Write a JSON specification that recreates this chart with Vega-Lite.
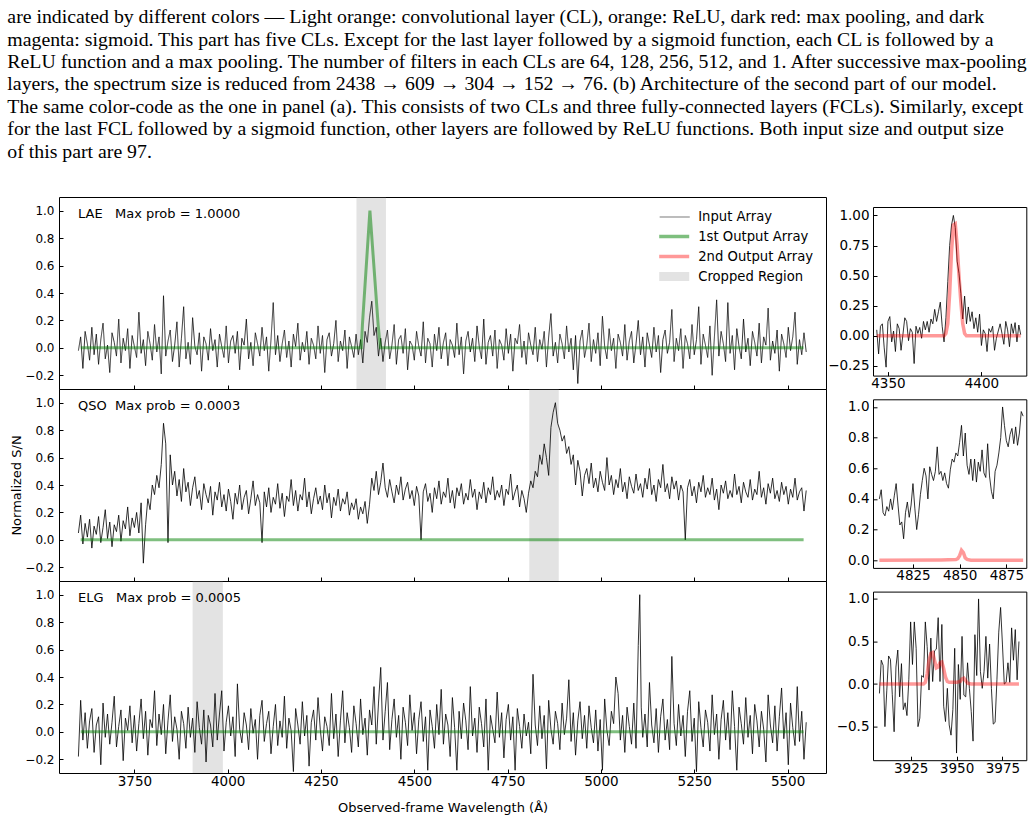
{
  "$schema": "https://vega.github.io/schema/vega-lite/v6.json",
  "background": "white",
  "padding": {"left": 7, "top": 7, "right": 5, "bottom": 5},
  "config": {
    "font": "DejaVu Sans",
    "view": {"stroke": "#000", "strokeWidth": 1},
    "axis": {"domain": false, "grid": false, "tickSize": -4, "tickColor": "#000", "tickWidth": 1, "tickCount": 20, "labelColor": "#000", "labelFont": "DejaVu Sans", "labelFlush": false, "labelOverlap": false, "titleFont": "DejaVu Sans", "titleFontSize": 13, "titleFontWeight": "normal", "titleColor": "#000"},
    "axisX": {"labelPadding": 5.7, "labelFontSize": 13.5},
    "axisY": {"labelPadding": 9, "labelFontSize": 12},
    "legend": {"title": null, "padding": 0, "labelFont": "DejaVu Sans", "labelFontSize": 13.2, "labelColor": "#000", "labelLimit": 300, "symbolSize": 225, "rowPadding": 5},
    "title": {"font": "DejaVu Sans", "fontWeight": "normal", "color": "#000"}
  },
  "title": {
    "text": [
      "are indicated by different colors — Light orange: convolutional layer (CL), orange: ReLU, dark red: max pooling, and dark",
      "magenta: sigmoid. This part has five CLs. Except for the last layer followed by a sigmoid function, each CL is followed by a",
      "ReLU function and a max pooling. The number of filters in each CLs are 64, 128, 256, 512, and 1. After successive max-pooling",
      "layers, the spectrum size is reduced from 2438 → 609 → 304 → 152 → 76. (b) Architecture of the second part of our model.",
      "The same color-code as the one in panel (a). This consists of two CLs and three fully-connected layers (FCLs). Similarly, except",
      "for the last FCL followed by a sigmoid function, other layers are followed by ReLU functions. Both input size and output size",
      "of this part are 97."
    ],
    "anchor": "start", "frame": "bounds", "font": "Liberation Serif", "fontSize": 19.8, "fontWeight": "normal", "lineHeight": 22.4, "offset": 35, "dx": -3, "color": "#000"
  },
  "datasets": {
    "lae": [
      {"wl":3600,"sn":-0.02},{"wl":3606,"sn":0.08},{"wl":3612,"sn":-0.15},{"wl":3618,"sn":0.12},{"wl":3624,"sn":0.03},{"wl":3630,"sn":-0.09},{"wl":3636,"sn":0.15},{"wl":3642,"sn":-0.05},{"wl":3648,"sn":0.1},{"wl":3654,"sn":-0.12},
      {"wl":3660,"sn":0.06},{"wl":3666,"sn":0.18},{"wl":3672,"sn":-0.08},{"wl":3678,"sn":0.02},{"wl":3684,"sn":-0.18},{"wl":3690,"sn":0.11},{"wl":3696,"sn":0.04},{"wl":3702,"sn":-0.06},{"wl":3708,"sn":0.21},{"wl":3714,"sn":-0.11},
      {"wl":3720,"sn":0.07},{"wl":3726,"sn":-0.02},{"wl":3732,"sn":0.14},{"wl":3738,"sn":-0.15},{"wl":3744,"sn":0.09},{"wl":3750,"sn":0.01},{"wl":3756,"sn":-0.07},{"wl":3762,"sn":0.26},{"wl":3768,"sn":-0.04},{"wl":3774,"sn":0.06},
      {"wl":3780,"sn":-0.13},{"wl":3786,"sn":0.12},{"wl":3792,"sn":0.03},{"wl":3798,"sn":-0.09},{"wl":3804,"sn":0.17},{"wl":3810,"sn":-0.03},{"wl":3816,"sn":0.08},{"wl":3822,"sn":-0.19},{"wl":3828,"sn":0.38},{"wl":3834,"sn":-0.06},
      {"wl":3840,"sn":0.05},{"wl":3846,"sn":0.13},{"wl":3852,"sn":-0.1},{"wl":3858,"sn":0.02},{"wl":3864,"sn":0.19},{"wl":3870,"sn":-0.14},{"wl":3876,"sn":0.07},{"wl":3882,"sn":0.3},{"wl":3888,"sn":-0.08},{"wl":3894,"sn":0.04},
      {"wl":3900,"sn":-0.12},{"wl":3906,"sn":0.22},{"wl":3912,"sn":0.01},{"wl":3918,"sn":-0.05},{"wl":3924,"sn":0.11},{"wl":3930,"sn":-0.17},{"wl":3936,"sn":0.08},{"wl":3942,"sn":0.03},{"wl":3948,"sn":-0.09},{"wl":3954,"sn":0.14},
      {"wl":3960,"sn":-0.02},{"wl":3966,"sn":0.06},{"wl":3972,"sn":-0.14},{"wl":3978,"sn":0.1},{"wl":3984,"sn":0.01},{"wl":3990,"sn":-0.07},{"wl":3996,"sn":0.16},{"wl":4002,"sn":-0.11},{"wl":4008,"sn":0.05},{"wl":4014,"sn":0.09},
      {"wl":4020,"sn":-0.04},{"wl":4026,"sn":0.12},{"wl":4032,"sn":-0.16},{"wl":4038,"sn":0.07},{"wl":4044,"sn":0.02},{"wl":4050,"sn":0.21},{"wl":4056,"sn":-0.08},{"wl":4062,"sn":0.04},{"wl":4068,"sn":-0.13},{"wl":4074,"sn":0.11},
      {"wl":4080,"sn":0.03},{"wl":4086,"sn":-0.06},{"wl":4092,"sn":0.15},{"wl":4098,"sn":-0.02},{"wl":4104,"sn":0.08},{"wl":4110,"sn":-0.17},{"wl":4116,"sn":0.06},{"wl":4122,"sn":0.33},{"wl":4128,"sn":-0.05},{"wl":4134,"sn":0.09},
      {"wl":4140,"sn":-0.1},{"wl":4146,"sn":0.03},{"wl":4152,"sn":0.13},{"wl":4158,"sn":-0.07},{"wl":4164,"sn":0.05},{"wl":4170,"sn":-0.14},{"wl":4176,"sn":0.1},{"wl":4182,"sn":0.01},{"wl":4188,"sn":0.18},{"wl":4194,"sn":-0.09},
      {"wl":4200,"sn":0.04},{"wl":4206,"sn":-0.03},{"wl":4212,"sn":0.12},{"wl":4218,"sn":-0.12},{"wl":4224,"sn":0.07},{"wl":4230,"sn":0.02},{"wl":4236,"sn":-0.08},{"wl":4242,"sn":0.16},{"wl":4248,"sn":-0.04},{"wl":4254,"sn":0.09},
      {"wl":4260,"sn":-0.18},{"wl":4266,"sn":0.06},{"wl":4272,"sn":0.11},{"wl":4278,"sn":-0.06},{"wl":4284,"sn":0.03},{"wl":4290,"sn":0.2},{"wl":4296,"sn":-0.1},{"wl":4302,"sn":0.05},{"wl":4308,"sn":-0.02},{"wl":4314,"sn":0.13},
      {"wl":4320,"sn":-0.15},{"wl":4326,"sn":0.08},{"wl":4332,"sn":0.01},{"wl":4338,"sn":-0.07},{"wl":4344,"sn":0.1},{"wl":4350,"sn":-0.05},{"wl":4356,"sn":0.06},{"wl":4362,"sn":-0.11},{"wl":4368,"sn":0.12},{"wl":4374,"sn":0.04},
      {"wl":4380,"sn":0.22},{"wl":4386,"sn":0.34},{"wl":4392,"sn":0.09},{"wl":4398,"sn":0.15},{"wl":4404,"sn":-0.06},{"wl":4410,"sn":0.07},{"wl":4416,"sn":-0.1},{"wl":4422,"sn":0.04},{"wl":4428,"sn":0.13},{"wl":4434,"sn":-0.08},
      {"wl":4440,"sn":0.02},{"wl":4446,"sn":0.17},{"wl":4452,"sn":-0.12},{"wl":4458,"sn":0.06},{"wl":4464,"sn":0.09},{"wl":4470,"sn":-0.04},{"wl":4476,"sn":0.14},{"wl":4482,"sn":-0.16},{"wl":4488,"sn":0.05},{"wl":4494,"sn":0.02},
      {"wl":4500,"sn":-0.09},{"wl":4506,"sn":0.12},{"wl":4512,"sn":0.01},{"wl":4518,"sn":-0.06},{"wl":4524,"sn":0.19},{"wl":4530,"sn":-0.11},{"wl":4536,"sn":0.07},{"wl":4542,"sn":0.03},{"wl":4548,"sn":-0.14},{"wl":4554,"sn":0.1},
      {"wl":4560,"sn":-0.02},{"wl":4566,"sn":0.15},{"wl":4572,"sn":-0.08},{"wl":4578,"sn":0.04},{"wl":4584,"sn":0.11},{"wl":4590,"sn":-0.13},{"wl":4596,"sn":0.06},{"wl":4602,"sn":0.02},{"wl":4608,"sn":-0.07},{"wl":4614,"sn":0.18},
      {"wl":4620,"sn":-0.05},{"wl":4626,"sn":0.08},{"wl":4632,"sn":-0.19},{"wl":4638,"sn":0.05},{"wl":4644,"sn":0.12},{"wl":4650,"sn":-0.03},{"wl":4656,"sn":0.07},{"wl":4662,"sn":-0.1},{"wl":4668,"sn":0.16},{"wl":4674,"sn":0.01},
      {"wl":4680,"sn":-0.08},{"wl":4686,"sn":0.21},{"wl":4692,"sn":-0.12},{"wl":4698,"sn":0.04},{"wl":4704,"sn":0.09},{"wl":4710,"sn":-0.06},{"wl":4716,"sn":0.13},{"wl":4722,"sn":-0.15},{"wl":4728,"sn":0.06},{"wl":4734,"sn":0.02},
      {"wl":4740,"sn":-0.09},{"wl":4746,"sn":0.14},{"wl":4752,"sn":-0.04},{"wl":4758,"sn":0.1},{"wl":4764,"sn":-0.17},{"wl":4770,"sn":0.07},{"wl":4776,"sn":0.03},{"wl":4782,"sn":0.17},{"wl":4788,"sn":-0.07},{"wl":4794,"sn":0.05},
      {"wl":4800,"sn":-0.12},{"wl":4806,"sn":0.11},{"wl":4812,"sn":0.02},{"wl":4818,"sn":-0.05},{"wl":4824,"sn":0.15},{"wl":4830,"sn":-0.1},{"wl":4836,"sn":0.06},{"wl":4842,"sn":-0.01},{"wl":4848,"sn":0.12},{"wl":4854,"sn":-0.14},
      {"wl":4860,"sn":0.08},{"wl":4866,"sn":0.25},{"wl":4872,"sn":-0.06},{"wl":4878,"sn":0.04},{"wl":4884,"sn":-0.11},{"wl":4890,"sn":0.1},{"wl":4896,"sn":0.03},{"wl":4902,"sn":-0.08},{"wl":4908,"sn":0.16},{"wl":4914,"sn":-0.03},
      {"wl":4920,"sn":0.07},{"wl":4926,"sn":-0.16},{"wl":4932,"sn":0.09},{"wl":4938,"sn":-0.26},{"wl":4944,"sn":0.05},{"wl":4950,"sn":0.13},{"wl":4956,"sn":-0.07},{"wl":4962,"sn":0.02},{"wl":4968,"sn":0.18},{"wl":4974,"sn":-0.1},
      {"wl":4980,"sn":0.06},{"wl":4986,"sn":-0.04},{"wl":4992,"sn":0.11},{"wl":4998,"sn":-0.13},{"wl":5004,"sn":0.23},{"wl":5010,"sn":0.01},{"wl":5016,"sn":-0.08},{"wl":5022,"sn":0.14},{"wl":5028,"sn":-0.02},{"wl":5034,"sn":0.07},
      {"wl":5040,"sn":-0.15},{"wl":5046,"sn":0.1},{"wl":5052,"sn":0.04},{"wl":5058,"sn":-0.06},{"wl":5064,"sn":0.17},{"wl":5070,"sn":-0.09},{"wl":5076,"sn":0.05},{"wl":5082,"sn":0.12},{"wl":5088,"sn":-0.11},{"wl":5094,"sn":0.03},
      {"wl":5100,"sn":0.2},{"wl":5106,"sn":-0.05},{"wl":5112,"sn":0.08},{"wl":5118,"sn":-0.14},{"wl":5124,"sn":0.11},{"wl":5130,"sn":0.02},{"wl":5136,"sn":-0.07},{"wl":5142,"sn":0.15},{"wl":5148,"sn":-0.03},{"wl":5154,"sn":0.09},
      {"wl":5160,"sn":-0.18},{"wl":5166,"sn":0.06},{"wl":5172,"sn":0.13},{"wl":5178,"sn":-0.04},{"wl":5184,"sn":0.04},{"wl":5190,"sn":0.28},{"wl":5196,"sn":-0.1},{"wl":5202,"sn":0.07},{"wl":5208,"sn":-0.02},{"wl":5214,"sn":0.14},
      {"wl":5220,"sn":-0.15},{"wl":5226,"sn":0.09},{"wl":5232,"sn":0.03},{"wl":5238,"sn":-0.08},{"wl":5244,"sn":0.17},{"wl":5250,"sn":-0.05},{"wl":5256,"sn":0.06},{"wl":5262,"sn":0.3},{"wl":5268,"sn":-0.12},{"wl":5274,"sn":0.1},
      {"wl":5280,"sn":0.02},{"wl":5286,"sn":-0.07},{"wl":5292,"sn":0.16},{"wl":5298,"sn":-0.2},{"wl":5304,"sn":0.08},{"wl":5310,"sn":0.35},{"wl":5316,"sn":-0.06},{"wl":5322,"sn":0.12},{"wl":5328,"sn":0.03},{"wl":5334,"sn":-0.1},
      {"wl":5340,"sn":0.33},{"wl":5346,"sn":-0.04},{"wl":5352,"sn":0.09},{"wl":5358,"sn":-0.16},{"wl":5364,"sn":0.14},{"wl":5370,"sn":0.01},{"wl":5376,"sn":-0.08},{"wl":5382,"sn":0.21},{"wl":5388,"sn":-0.03},{"wl":5394,"sn":0.07},
      {"wl":5400,"sn":-0.13},{"wl":5406,"sn":0.12},{"wl":5412,"sn":0.04},{"wl":5418,"sn":-0.06},{"wl":5424,"sn":0.18},{"wl":5430,"sn":-0.11},{"wl":5436,"sn":0.08},{"wl":5442,"sn":0.02},{"wl":5448,"sn":0.29},{"wl":5454,"sn":-0.09},
      {"wl":5460,"sn":0.05},{"wl":5466,"sn":-0.04},{"wl":5472,"sn":0.13},{"wl":5478,"sn":-0.17},{"wl":5484,"sn":0.1},{"wl":5490,"sn":0.03},{"wl":5496,"sn":-0.07},{"wl":5502,"sn":0.15},{"wl":5508,"sn":-0.02},{"wl":5514,"sn":0.08},
      {"wl":5520,"sn":0.26},{"wl":5526,"sn":-0.12},{"wl":5532,"sn":0.06},{"wl":5538,"sn":-0.05},{"wl":5544,"sn":0.11},{"wl":5550,"sn":-0.03}
    ],
    "laeOut1": [
      {"wl":3606,"sn":0},{"wl":4358,"sn":0},{"wl":4361,"sn":0.17},{"wl":4381,"sn":1.0},{"wl":4403,"sn":0.17},{"wl":4409,"sn":0},{"wl":5543,"sn":0}
    ],
    "qso": [
      {"wl":3600,"sn":0.05},{"wl":3606,"sn":0.18},{"wl":3612,"sn":-0.03},{"wl":3618,"sn":0.12},{"wl":3624,"sn":0.02},{"wl":3630,"sn":0.15},{"wl":3636,"sn":-0.06},{"wl":3642,"sn":0.1},{"wl":3648,"sn":0.04},{"wl":3654,"sn":0.17},
      {"wl":3660,"sn":-0.02},{"wl":3666,"sn":0.09},{"wl":3672,"sn":0.22},{"wl":3678,"sn":0.01},{"wl":3684,"sn":0.13},{"wl":3690,"sn":-0.05},{"wl":3696,"sn":0.11},{"wl":3702,"sn":0.06},{"wl":3708,"sn":0.18},{"wl":3714,"sn":-0.01},
      {"wl":3720,"sn":0.14},{"wl":3726,"sn":0.08},{"wl":3732,"sn":0.24},{"wl":3738,"sn":0.03},{"wl":3744,"sn":0.16},{"wl":3750,"sn":0.09},{"wl":3756,"sn":0.2},{"wl":3762,"sn":0.05},{"wl":3768,"sn":0.27},{"wl":3774,"sn":-0.17},
      {"wl":3780,"sn":0.11},{"wl":3786,"sn":0.3},{"wl":3792,"sn":0.22},{"wl":3798,"sn":0.4},{"wl":3804,"sn":0.33},{"wl":3810,"sn":0.47},{"wl":3816,"sn":0.38},{"wl":3822,"sn":0.55},{"wl":3828,"sn":0.85},{"wl":3834,"sn":0.7},
      {"wl":3840,"sn":-0.02},{"wl":3846,"sn":0.62},{"wl":3852,"sn":0.4},{"wl":3858,"sn":0.5},{"wl":3864,"sn":0.32},{"wl":3870,"sn":0.44},{"wl":3876,"sn":0.28},{"wl":3882,"sn":0.52},{"wl":3888,"sn":0.35},{"wl":3894,"sn":0.42},
      {"wl":3900,"sn":0.25},{"wl":3906,"sn":0.38},{"wl":3912,"sn":0.46},{"wl":3918,"sn":0.3},{"wl":3924,"sn":0.36},{"wl":3930,"sn":0.22},{"wl":3936,"sn":0.41},{"wl":3942,"sn":0.33},{"wl":3948,"sn":0.27},{"wl":3954,"sn":0.39},
      {"wl":3960,"sn":0.18},{"wl":3966,"sn":0.35},{"wl":3972,"sn":0.29},{"wl":3978,"sn":0.42},{"wl":3984,"sn":0.24},{"wl":3990,"sn":0.33},{"wl":3996,"sn":0.21},{"wl":4002,"sn":0.37},{"wl":4008,"sn":0.28},{"wl":4014,"sn":0.15},
      {"wl":4020,"sn":0.34},{"wl":4026,"sn":0.26},{"wl":4032,"sn":0.4},{"wl":4038,"sn":0.22},{"wl":4044,"sn":0.31},{"wl":4050,"sn":0.36},{"wl":4056,"sn":0.19},{"wl":4062,"sn":0.3},{"wl":4068,"sn":0.43},{"wl":4074,"sn":0.25},
      {"wl":4080,"sn":0.33},{"wl":4086,"sn":0.27},{"wl":4092,"sn":-0.02},{"wl":4098,"sn":0.35},{"wl":4104,"sn":0.24},{"wl":4110,"sn":0.38},{"wl":4116,"sn":0.2},{"wl":4122,"sn":0.31},{"wl":4128,"sn":0.26},{"wl":4134,"sn":0.41},
      {"wl":4140,"sn":0.23},{"wl":4146,"sn":0.34},{"wl":4152,"sn":0.17},{"wl":4158,"sn":0.32},{"wl":4164,"sn":0.28},{"wl":4170,"sn":0.44},{"wl":4176,"sn":0.25},{"wl":4182,"sn":0.36},{"wl":4188,"sn":0.21},{"wl":4194,"sn":0.33},
      {"wl":4200,"sn":0.29},{"wl":4206,"sn":0.45},{"wl":4212,"sn":0.24},{"wl":4218,"sn":0.35},{"wl":4224,"sn":0.19},{"wl":4230,"sn":0.3},{"wl":4236,"sn":0.38},{"wl":4242,"sn":0.26},{"wl":4248,"sn":0.32},{"wl":4254,"sn":0.22},
      {"wl":4260,"sn":0.4},{"wl":4266,"sn":0.27},{"wl":4272,"sn":0.34},{"wl":4278,"sn":0.16},{"wl":4284,"sn":0.31},{"wl":4290,"sn":0.25},{"wl":4296,"sn":0.37},{"wl":4302,"sn":0.21},{"wl":4308,"sn":0.3},{"wl":4314,"sn":0.26},
      {"wl":4320,"sn":0.35},{"wl":4326,"sn":0.18},{"wl":4332,"sn":0.27},{"wl":4338,"sn":0.22},{"wl":4344,"sn":0.3},{"wl":4350,"sn":0.15},{"wl":4356,"sn":0.24},{"wl":4362,"sn":0.19},{"wl":4368,"sn":0.28},{"wl":4374,"sn":0.12},
      {"wl":4380,"sn":0.26},{"wl":4386,"sn":0.45},{"wl":4392,"sn":0.36},{"wl":4398,"sn":0.5},{"wl":4404,"sn":0.33},{"wl":4410,"sn":0.42},{"wl":4416,"sn":0.56},{"wl":4422,"sn":0.38},{"wl":4428,"sn":0.31},{"wl":4434,"sn":0.44},
      {"wl":4440,"sn":0.35},{"wl":4446,"sn":0.27},{"wl":4452,"sn":0.4},{"wl":4458,"sn":0.33},{"wl":4464,"sn":0.46},{"wl":4470,"sn":0.29},{"wl":4476,"sn":0.37},{"wl":4482,"sn":0.42},{"wl":4488,"sn":0.3},{"wl":4494,"sn":0.36},
      {"wl":4500,"sn":0.25},{"wl":4506,"sn":0.39},{"wl":4512,"sn":0.32},{"wl":4518,"sn":0.0},{"wl":4524,"sn":0.35},{"wl":4530,"sn":0.41},{"wl":4536,"sn":0.28},{"wl":4542,"sn":0.34},{"wl":4548,"sn":0.2},{"wl":4554,"sn":0.38},
      {"wl":4560,"sn":0.3},{"wl":4566,"sn":0.43},{"wl":4572,"sn":0.26},{"wl":4578,"sn":0.35},{"wl":4584,"sn":0.31},{"wl":4590,"sn":0.45},{"wl":4596,"sn":0.27},{"wl":4602,"sn":0.36},{"wl":4608,"sn":0.23},{"wl":4614,"sn":0.38},
      {"wl":4620,"sn":0.32},{"wl":4626,"sn":0.41},{"wl":4632,"sn":0.26},{"wl":4638,"sn":0.34},{"wl":4644,"sn":0.29},{"wl":4650,"sn":0.44},{"wl":4656,"sn":0.31},{"wl":4662,"sn":0.37},{"wl":4668,"sn":0.22},{"wl":4674,"sn":0.35},
      {"wl":4680,"sn":0.3},{"wl":4686,"sn":0.42},{"wl":4692,"sn":0.27},{"wl":4698,"sn":0.38},{"wl":4704,"sn":0.33},{"wl":4710,"sn":0.46},{"wl":4716,"sn":0.29},{"wl":4722,"sn":0.36},{"wl":4728,"sn":0.31},{"wl":4734,"sn":0.4},
      {"wl":4740,"sn":0.25},{"wl":4746,"sn":0.37},{"wl":4752,"sn":0.33},{"wl":4758,"sn":0.48},{"wl":4764,"sn":0.29},{"wl":4770,"sn":0.35},{"wl":4776,"sn":0.4},{"wl":4782,"sn":0.24},{"wl":4788,"sn":0.36},{"wl":4794,"sn":0.3},
      {"wl":4800,"sn":0.2},{"wl":4806,"sn":0.34},{"wl":4812,"sn":0.43},{"wl":4818,"sn":0.38},{"wl":4824,"sn":0.5},{"wl":4830,"sn":0.46},{"wl":4836,"sn":0.62},{"wl":4842,"sn":0.55},{"wl":4848,"sn":0.7},{"wl":4854,"sn":0.6},
      {"wl":4860,"sn":0.47},{"wl":4866,"sn":0.82},{"wl":4872,"sn":0.93},{"wl":4878,"sn":1.0},{"wl":4884,"sn":0.85},{"wl":4890,"sn":0.8},{"wl":4896,"sn":0.72},{"wl":4902,"sn":0.76},{"wl":4908,"sn":0.63},{"wl":4914,"sn":0.68},
      {"wl":4920,"sn":0.55},{"wl":4926,"sn":0.62},{"wl":4932,"sn":0.4},{"wl":4938,"sn":0.58},{"wl":4944,"sn":0.5},{"wl":4950,"sn":0.32},{"wl":4956,"sn":0.47},{"wl":4962,"sn":0.52},{"wl":4968,"sn":0.41},{"wl":4974,"sn":0.56},
      {"wl":4980,"sn":0.38},{"wl":4986,"sn":0.45},{"wl":4992,"sn":0.35},{"wl":4998,"sn":0.5},{"wl":5004,"sn":0.42},{"wl":5010,"sn":0.36},{"wl":5016,"sn":0.6},{"wl":5022,"sn":0.4},{"wl":5028,"sn":0.47},{"wl":5034,"sn":0.33},
      {"wl":5040,"sn":0.44},{"wl":5046,"sn":0.38},{"wl":5052,"sn":0.52},{"wl":5058,"sn":0.35},{"wl":5064,"sn":0.42},{"wl":5070,"sn":0.3},{"wl":5076,"sn":0.46},{"wl":5082,"sn":0.39},{"wl":5088,"sn":0.34},{"wl":5094,"sn":0.48},
      {"wl":5100,"sn":0.36},{"wl":5106,"sn":0.41},{"wl":5112,"sn":0.31},{"wl":5118,"sn":0.45},{"wl":5124,"sn":0.37},{"wl":5130,"sn":0.52},{"wl":5136,"sn":0.33},{"wl":5142,"sn":0.4},{"wl":5148,"sn":0.28},{"wl":5154,"sn":0.44},
      {"wl":5160,"sn":0.38},{"wl":5166,"sn":0.55},{"wl":5172,"sn":0.35},{"wl":5178,"sn":0.41},{"wl":5184,"sn":0.3},{"wl":5190,"sn":0.46},{"wl":5196,"sn":0.37},{"wl":5202,"sn":0.43},{"wl":5208,"sn":0.29},{"wl":5214,"sn":0.4},
      {"wl":5220,"sn":0.35},{"wl":5226,"sn":0.0},{"wl":5232,"sn":0.38},{"wl":5238,"sn":0.44},{"wl":5244,"sn":0.32},{"wl":5250,"sn":0.39},{"wl":5256,"sn":0.27},{"wl":5262,"sn":0.42},{"wl":5268,"sn":0.35},{"wl":5274,"sn":0.47},
      {"wl":5280,"sn":0.31},{"wl":5286,"sn":0.38},{"wl":5292,"sn":0.33},{"wl":5298,"sn":0.45},{"wl":5304,"sn":0.29},{"wl":5310,"sn":0.37},{"wl":5316,"sn":0.22},{"wl":5322,"sn":0.4},{"wl":5328,"sn":0.34},{"wl":5334,"sn":0.43},
      {"wl":5340,"sn":0.3},{"wl":5346,"sn":0.36},{"wl":5352,"sn":0.31},{"wl":5358,"sn":0.48},{"wl":5364,"sn":0.33},{"wl":5370,"sn":0.39},{"wl":5376,"sn":0.27},{"wl":5382,"sn":0.42},{"wl":5388,"sn":0.35},{"wl":5394,"sn":0.31},
      {"wl":5400,"sn":0.44},{"wl":5406,"sn":0.29},{"wl":5412,"sn":0.37},{"wl":5418,"sn":0.33},{"wl":5424,"sn":0.5},{"wl":5430,"sn":0.31},{"wl":5436,"sn":0.38},{"wl":5442,"sn":0.26},{"wl":5448,"sn":0.41},{"wl":5454,"sn":0.34},
      {"wl":5460,"sn":0.45},{"wl":5466,"sn":0.3},{"wl":5472,"sn":0.36},{"wl":5478,"sn":0.28},{"wl":5484,"sn":0.42},{"wl":5490,"sn":0.33},{"wl":5496,"sn":0.39},{"wl":5502,"sn":0.26},{"wl":5508,"sn":0.37},{"wl":5514,"sn":0.31},
      {"wl":5520,"sn":0.45},{"wl":5526,"sn":0.29},{"wl":5532,"sn":0.35},{"wl":5538,"sn":0.38},{"wl":5544,"sn":0.21},{"wl":5550,"sn":0.36}
    ],
    "flatOut1": [
      {"wl":3606,"sn":0},{"wl":5543,"sn":0}
    ],
    "elg": [
      {"wl":3600,"sn":-0.18},{"wl":3606,"sn":0.23},{"wl":3612,"sn":-0.06},{"wl":3618,"sn":0.14},{"wl":3624,"sn":-0.12},{"wl":3630,"sn":0.08},{"wl":3636,"sn":0.17},{"wl":3642,"sn":-0.15},{"wl":3648,"sn":0.05},{"wl":3654,"sn":0.11},
      {"wl":3660,"sn":-0.24},{"wl":3666,"sn":0.21},{"wl":3672,"sn":-0.04},{"wl":3678,"sn":0.13},{"wl":3684,"sn":-0.09},{"wl":3690,"sn":0.07},{"wl":3696,"sn":0.26},{"wl":3702,"sn":-0.11},{"wl":3708,"sn":0.04},{"wl":3714,"sn":0.16},
      {"wl":3720,"sn":-0.21},{"wl":3726,"sn":0.1},{"wl":3732,"sn":0.01},{"wl":3738,"sn":0.19},{"wl":3744,"sn":-0.08},{"wl":3750,"sn":0.12},{"wl":3756,"sn":-0.14},{"wl":3762,"sn":0.06},{"wl":3768,"sn":0.24},{"wl":3774,"sn":-0.05},
      {"wl":3780,"sn":0.15},{"wl":3786,"sn":-0.17},{"wl":3792,"sn":0.09},{"wl":3798,"sn":0.03},{"wl":3804,"sn":0.3},{"wl":3810,"sn":-0.1},{"wl":3816,"sn":0.13},{"wl":3822,"sn":-0.02},{"wl":3828,"sn":0.2},{"wl":3834,"sn":-0.16},
      {"wl":3840,"sn":0.08},{"wl":3846,"sn":0.27},{"wl":3852,"sn":-0.07},{"wl":3858,"sn":0.11},{"wl":3864,"sn":0.02},{"wl":3870,"sn":-0.2},{"wl":3876,"sn":0.15},{"wl":3882,"sn":0.06},{"wl":3888,"sn":-0.12},{"wl":3894,"sn":0.18},
      {"wl":3900,"sn":-0.04},{"wl":3906,"sn":0.1},{"wl":3912,"sn":-0.15},{"wl":3918,"sn":0.22},{"wl":3924,"sn":0.03},{"wl":3930,"sn":-0.09},{"wl":3936,"sn":0.16},{"wl":3942,"sn":-0.22},{"wl":3948,"sn":0.12},{"wl":3954,"sn":0.05},
      {"wl":3960,"sn":-0.11},{"wl":3966,"sn":0.28},{"wl":3972,"sn":-0.06},{"wl":3978,"sn":0.13},{"wl":3984,"sn":0.3},{"wl":3990,"sn":-0.14},{"wl":3996,"sn":0.07},{"wl":4002,"sn":0.19},{"wl":4008,"sn":-0.03},{"wl":4014,"sn":0.11},
      {"wl":4020,"sn":-0.18},{"wl":4026,"sn":0.35},{"wl":4032,"sn":0.02},{"wl":4038,"sn":-0.08},{"wl":4044,"sn":0.14},{"wl":4050,"sn":0.05},{"wl":4056,"sn":-0.13},{"wl":4062,"sn":0.17},{"wl":4068,"sn":-0.01},{"wl":4074,"sn":0.09},
      {"wl":4080,"sn":-0.2},{"wl":4086,"sn":0.12},{"wl":4092,"sn":0.23},{"wl":4098,"sn":-0.07},{"wl":4104,"sn":0.06},{"wl":4110,"sn":0.15},{"wl":4116,"sn":-0.16},{"wl":4122,"sn":0.04},{"wl":4128,"sn":0.2},{"wl":4134,"sn":-0.1},
      {"wl":4140,"sn":0.08},{"wl":4146,"sn":-0.04},{"wl":4152,"sn":0.26},{"wl":4158,"sn":-0.12},{"wl":4164,"sn":0.1},{"wl":4170,"sn":0.01},{"wl":4176,"sn":-0.29},{"wl":4182,"sn":0.17},{"wl":4188,"sn":0.05},{"wl":4194,"sn":-0.09},
      {"wl":4200,"sn":0.22},{"wl":4206,"sn":-0.03},{"wl":4212,"sn":0.12},{"wl":4218,"sn":-0.25},{"wl":4224,"sn":0.07},{"wl":4230,"sn":0.16},{"wl":4236,"sn":-0.06},{"wl":4242,"sn":0.25},{"wl":4248,"sn":0.02},{"wl":4254,"sn":-0.14},
      {"wl":4260,"sn":0.11},{"wl":4266,"sn":0.04},{"wl":4272,"sn":-0.1},{"wl":4278,"sn":0.28},{"wl":4284,"sn":-0.05},{"wl":4290,"sn":0.13},{"wl":4296,"sn":-0.18},{"wl":4302,"sn":0.08},{"wl":4308,"sn":0.3},{"wl":4314,"sn":-0.08},
      {"wl":4320,"sn":0.14},{"wl":4326,"sn":0.03},{"wl":4332,"sn":-0.15},{"wl":4338,"sn":0.19},{"wl":4344,"sn":0.06},{"wl":4350,"sn":-0.11},{"wl":4356,"sn":0.24},{"wl":4362,"sn":-0.02},{"wl":4368,"sn":0.1},{"wl":4374,"sn":-0.17},
      {"wl":4380,"sn":0.16},{"wl":4386,"sn":0.05},{"wl":4392,"sn":0.33},{"wl":4398,"sn":-0.09},{"wl":4404,"sn":0.21},{"wl":4410,"sn":0.47},{"wl":4416,"sn":-0.06},{"wl":4422,"sn":0.15},{"wl":4428,"sn":0.36},{"wl":4434,"sn":-0.13},
      {"wl":4440,"sn":0.09},{"wl":4446,"sn":0.24},{"wl":4452,"sn":-0.04},{"wl":4458,"sn":0.12},{"wl":4464,"sn":-0.2},{"wl":4470,"sn":0.18},{"wl":4476,"sn":0.07},{"wl":4482,"sn":-0.1},{"wl":4488,"sn":0.27},{"wl":4494,"sn":0.01},
      {"wl":4500,"sn":0.14},{"wl":4506,"sn":-0.16},{"wl":4512,"sn":0.09},{"wl":4518,"sn":0.22},{"wl":4524,"sn":-0.07},{"wl":4530,"sn":0.11},{"wl":4536,"sn":-0.28},{"wl":4542,"sn":0.16},{"wl":4548,"sn":0.04},{"wl":4554,"sn":-0.12},
      {"wl":4560,"sn":0.2},{"wl":4566,"sn":-0.02},{"wl":4572,"sn":0.31},{"wl":4578,"sn":-0.09},{"wl":4584,"sn":0.13},{"wl":4590,"sn":0.05},{"wl":4596,"sn":-0.18},{"wl":4602,"sn":0.25},{"wl":4608,"sn":0.03},{"wl":4614,"sn":-0.28},
      {"wl":4620,"sn":0.15},{"wl":4626,"sn":-0.05},{"wl":4632,"sn":0.21},{"wl":4638,"sn":0.08},{"wl":4644,"sn":-0.13},{"wl":4650,"sn":0.33},{"wl":4656,"sn":-0.03},{"wl":4662,"sn":0.1},{"wl":4668,"sn":-0.15},{"wl":4674,"sn":0.18},
      {"wl":4680,"sn":0.06},{"wl":4686,"sn":-0.11},{"wl":4692,"sn":0.24},{"wl":4698,"sn":-0.28},{"wl":4704,"sn":0.12},{"wl":4710,"sn":0.02},{"wl":4716,"sn":-0.08},{"wl":4722,"sn":0.29},{"wl":4728,"sn":-0.04},{"wl":4734,"sn":0.14},
      {"wl":4740,"sn":-0.19},{"wl":4746,"sn":0.09},{"wl":4752,"sn":0.2},{"wl":4758,"sn":-0.06},{"wl":4764,"sn":0.11},{"wl":4770,"sn":-0.28},{"wl":4776,"sn":0.17},{"wl":4782,"sn":0.04},{"wl":4788,"sn":-0.12},{"wl":4794,"sn":0.13},
      {"wl":4800,"sn":-0.03},{"wl":4806,"sn":0.07},{"wl":4812,"sn":-0.16},{"wl":4818,"sn":0.42},{"wl":4824,"sn":0.05},{"wl":4830,"sn":-0.1},{"wl":4836,"sn":0.19},{"wl":4842,"sn":-0.05},{"wl":4848,"sn":0.12},{"wl":4854,"sn":-0.27},
      {"wl":4860,"sn":0.23},{"wl":4866,"sn":0.02},{"wl":4872,"sn":-0.09},{"wl":4878,"sn":0.15},{"wl":4884,"sn":0.06},{"wl":4890,"sn":-0.13},{"wl":4896,"sn":0.21},{"wl":4902,"sn":-0.02},{"wl":4908,"sn":0.1},{"wl":4914,"sn":0.38},
      {"wl":4920,"sn":-0.07},{"wl":4926,"sn":0.14},{"wl":4932,"sn":-0.17},{"wl":4938,"sn":0.08},{"wl":4944,"sn":0.22},{"wl":4950,"sn":-0.05},{"wl":4956,"sn":0.12},{"wl":4962,"sn":-0.12},{"wl":4968,"sn":0.19},{"wl":4974,"sn":0.03},
      {"wl":4980,"sn":-0.08},{"wl":4986,"sn":0.16},{"wl":4992,"sn":-0.14},{"wl":4998,"sn":0.09},{"wl":5004,"sn":-0.28},{"wl":5010,"sn":0.24},{"wl":5016,"sn":0.01},{"wl":5022,"sn":-0.1},{"wl":5028,"sn":0.15},{"wl":5034,"sn":0.06},
      {"wl":5040,"sn":0.4},{"wl":5046,"sn":0.28},{"wl":5052,"sn":-0.06},{"wl":5058,"sn":0.12},{"wl":5064,"sn":-0.15},{"wl":5070,"sn":0.18},{"wl":5076,"sn":0.04},{"wl":5082,"sn":-0.09},{"wl":5088,"sn":0.21},{"wl":5094,"sn":-0.12},
      {"wl":5100,"sn":0.63},{"wl":5104,"sn":1.0},{"wl":5108,"sn":0.18},{"wl":5112,"sn":-0.04},{"wl":5118,"sn":0.13},{"wl":5124,"sn":-0.11},{"wl":5130,"sn":0.36},{"wl":5136,"sn":0.05},{"wl":5142,"sn":-0.08},{"wl":5148,"sn":0.17},
      {"wl":5154,"sn":-0.15},{"wl":5160,"sn":0.11},{"wl":5166,"sn":0.24},{"wl":5172,"sn":-0.06},{"wl":5178,"sn":0.09},{"wl":5184,"sn":-0.13},{"wl":5190,"sn":0.55},{"wl":5196,"sn":0.06},{"wl":5202,"sn":-0.1},{"wl":5208,"sn":0.2},
      {"wl":5214,"sn":-0.03},{"wl":5220,"sn":0.12},{"wl":5226,"sn":-0.18},{"wl":5232,"sn":0.15},{"wl":5238,"sn":0.3},{"wl":5244,"sn":-0.07},{"wl":5250,"sn":0.1},{"wl":5256,"sn":-0.29},{"wl":5262,"sn":0.22},{"wl":5268,"sn":0.03},
      {"wl":5274,"sn":-0.11},{"wl":5280,"sn":0.16},{"wl":5286,"sn":0.07},{"wl":5292,"sn":-0.14},{"wl":5298,"sn":0.27},{"wl":5304,"sn":-0.02},{"wl":5310,"sn":0.13},{"wl":5316,"sn":-0.2},{"wl":5322,"sn":0.09},{"wl":5328,"sn":0.23},
      {"wl":5334,"sn":-0.06},{"wl":5340,"sn":0.14},{"wl":5346,"sn":-0.13},{"wl":5352,"sn":0.3},{"wl":5358,"sn":0.04},{"wl":5364,"sn":-0.28},{"wl":5370,"sn":0.18},{"wl":5376,"sn":0.06},{"wl":5382,"sn":-0.09},{"wl":5388,"sn":0.25},
      {"wl":5394,"sn":-0.04},{"wl":5400,"sn":0.12},{"wl":5406,"sn":-0.16},{"wl":5412,"sn":0.2},{"wl":5418,"sn":0.08},{"wl":5424,"sn":-0.11},{"wl":5430,"sn":0.15},{"wl":5436,"sn":0.02},{"wl":5442,"sn":-0.22},{"wl":5448,"sn":0.27},
      {"wl":5454,"sn":0.05},{"wl":5460,"sn":-0.08},{"wl":5466,"sn":0.19},{"wl":5472,"sn":-0.14},{"wl":5478,"sn":0.11},{"wl":5484,"sn":0.32},{"wl":5490,"sn":-0.05},{"wl":5496,"sn":0.14},{"wl":5502,"sn":-0.24},{"wl":5508,"sn":0.21},
      {"wl":5514,"sn":0.03},{"wl":5520,"sn":-0.1},{"wl":5526,"sn":0.33},{"wl":5532,"sn":-0.07},{"wl":5538,"sn":0.15},{"wl":5544,"sn":-0.2},{"wl":5550,"sn":0.07}
    ],
    "laeCrop": [
      {"wl":4344,"sn":0.05},{"wl":4345,"sn":-0.15},{"wl":4346,"sn":0.08},{"wl":4347,"sn":0.1},{"wl":4348,"sn":-0.1},{"wl":4349,"sn":-0.26},{"wl":4350,"sn":0.12},{"wl":4351,"sn":0.16},{"wl":4352,"sn":-0.05},{"wl":4353,"sn":0.04},
      {"wl":4354,"sn":-0.13},{"wl":4355,"sn":0.1},{"wl":4356,"sn":0.06},{"wl":4357,"sn":-0.12},{"wl":4358,"sn":0.01},{"wl":4359,"sn":0.15},{"wl":4360,"sn":0.12},{"wl":4361,"sn":-0.04},{"wl":4362,"sn":0.06},{"wl":4363,"sn":0.03},
      {"wl":4364,"sn":-0.23},{"wl":4365,"sn":0.08},{"wl":4366,"sn":0.02},{"wl":4367,"sn":0.07},{"wl":4368,"sn":-0.02},{"wl":4369,"sn":0.12},{"wl":4370,"sn":0.05},{"wl":4371,"sn":0.12},{"wl":4372,"sn":0.03},{"wl":4373,"sn":0.14},
      {"wl":4374,"sn":0.1},{"wl":4375,"sn":0.22},{"wl":4376,"sn":0.12},{"wl":4377,"sn":0.2},{"wl":4378,"sn":0.28},{"wl":4379,"sn":0.08},{"wl":4380,"sn":-0.05},{"wl":4381,"sn":0.15},{"wl":4382,"sn":0.45},{"wl":4383,"sn":0.75},
      {"wl":4384,"sn":0.92},{"wl":4385,"sn":1.0},{"wl":4386,"sn":0.9},{"wl":4387,"sn":0.62},{"wl":4388,"sn":0.52},{"wl":4389,"sn":0.35},{"wl":4390,"sn":0.14},{"wl":4391,"sn":0.33},{"wl":4392,"sn":0.1},{"wl":4393,"sn":0.24},
      {"wl":4394,"sn":0.12},{"wl":4395,"sn":0.2},{"wl":4396,"sn":0.06},{"wl":4397,"sn":0.15},{"wl":4398,"sn":0.03},{"wl":4399,"sn":0.18},{"wl":4400,"sn":-0.08},{"wl":4401,"sn":0.05},{"wl":4402,"sn":0.02},{"wl":4403,"sn":-0.13},
      {"wl":4404,"sn":0.06},{"wl":4405,"sn":0.03},{"wl":4406,"sn":0.08},{"wl":4407,"sn":-0.12},{"wl":4408,"sn":-0.02},{"wl":4409,"sn":0.04},{"wl":4410,"sn":0.1},{"wl":4411,"sn":0.02},{"wl":4412,"sn":-0.07},{"wl":4413,"sn":0.12},
      {"wl":4414,"sn":0.05},{"wl":4415,"sn":-0.09},{"wl":4416,"sn":0.1},{"wl":4417,"sn":0.02},{"wl":4418,"sn":0.11},{"wl":4419,"sn":-0.05},{"wl":4420,"sn":0.09},{"wl":4421,"sn":0.01}
    ],
    "laeOut2": [
      {"wl":4344,"sn":0},{"wl":4380,"sn":0},{"wl":4381,"sn":0.02},{"wl":4382,"sn":0.1},{"wl":4383,"sn":0.35},{"wl":4384,"sn":0.7},{"wl":4385,"sn":0.92},{"wl":4386,"sn":0.93},{"wl":4387,"sn":0.75},{"wl":4388,"sn":0.5},
      {"wl":4389,"sn":0.28},{"wl":4390,"sn":0.1},{"wl":4391,"sn":0.02},{"wl":4392,"sn":0},{"wl":4421,"sn":0}
    ],
    "qsoCrop": [
      {"wl":4807,"sn":0.4},{"wl":4808,"sn":0.46},{"wl":4809,"sn":0.31},{"wl":4810,"sn":0.29},{"wl":4811,"sn":0.35},{"wl":4812,"sn":0.32},{"wl":4813,"sn":0.4},{"wl":4814,"sn":0.33},{"wl":4815,"sn":0.42},{"wl":4816,"sn":0.5},
      {"wl":4817,"sn":0.36},{"wl":4818,"sn":0.23},{"wl":4819,"sn":0.25},{"wl":4820,"sn":0.14},{"wl":4821,"sn":0.31},{"wl":4822,"sn":0.38},{"wl":4823,"sn":0.28},{"wl":4824,"sn":0.36},{"wl":4825,"sn":0.5},{"wl":4826,"sn":0.34},
      {"wl":4827,"sn":0.2},{"wl":4828,"sn":0.3},{"wl":4829,"sn":0.43},{"wl":4830,"sn":0.52},{"wl":4831,"sn":0.6},{"wl":4832,"sn":0.55},{"wl":4833,"sn":0.4},{"wl":4834,"sn":0.61},{"wl":4835,"sn":0.56},{"wl":4836,"sn":0.52},
      {"wl":4837,"sn":0.58},{"wl":4838,"sn":0.74},{"wl":4839,"sn":0.56},{"wl":4840,"sn":0.58},{"wl":4841,"sn":0.52},{"wl":4842,"sn":0.57},{"wl":4843,"sn":0.5},{"wl":4844,"sn":0.47},{"wl":4845,"sn":0.59},{"wl":4846,"sn":0.66},
      {"wl":4847,"sn":0.64},{"wl":4848,"sn":0.7},{"wl":4849,"sn":0.68},{"wl":4850,"sn":0.77},{"wl":4851,"sn":0.88},{"wl":4852,"sn":0.68},{"wl":4853,"sn":0.83},{"wl":4854,"sn":0.62},{"wl":4855,"sn":0.56},{"wl":4856,"sn":0.66},
      {"wl":4857,"sn":0.52},{"wl":4858,"sn":0.66},{"wl":4859,"sn":0.51},{"wl":4860,"sn":0.64},{"wl":4861,"sn":0.58},{"wl":4862,"sn":0.72},{"wl":4863,"sn":0.57},{"wl":4864,"sn":0.54},{"wl":4865,"sn":0.76},{"wl":4866,"sn":0.55},
      {"wl":4867,"sn":0.45},{"wl":4868,"sn":0.4},{"wl":4869,"sn":0.58},{"wl":4870,"sn":0.62},{"wl":4871,"sn":0.7},{"wl":4872,"sn":0.8},{"wl":4873,"sn":1.0},{"wl":4874,"sn":0.88},{"wl":4875,"sn":0.78},{"wl":4876,"sn":0.74},
      {"wl":4877,"sn":0.82},{"wl":4878,"sn":0.86},{"wl":4879,"sn":0.76},{"wl":4880,"sn":0.87},{"wl":4881,"sn":0.75},{"wl":4882,"sn":0.83},{"wl":4883,"sn":0.97},{"wl":4884,"sn":0.94}
    ],
    "qsoOut2": [
      {"wl":4807,"sn":0},{"wl":4840,"sn":0.002},{"wl":4848,"sn":0.004},{"wl":4849,"sn":0.01},{"wl":4850,"sn":0.03},{"wl":4851,"sn":0.065},{"wl":4852,"sn":0.05},{"wl":4853,"sn":0.015},{"wl":4854,"sn":0.005},{"wl":4856,"sn":0},{"wl":4884,"sn":0}
    ],
    "elgCrop": [
      {"wl":3908,"sn":-0.11},{"wl":3909,"sn":0.28},{"wl":3910,"sn":0.22},{"wl":3911,"sn":-0.5},{"wl":3912,"sn":-0.08},{"wl":3913,"sn":0.33},{"wl":3914,"sn":0.29},{"wl":3915,"sn":-0.12},{"wl":3916,"sn":-0.56},{"wl":3917,"sn":0.2},
      {"wl":3918,"sn":0.4},{"wl":3919,"sn":-0.15},{"wl":3920,"sn":0.24},{"wl":3921,"sn":-0.3},{"wl":3922,"sn":-0.22},{"wl":3923,"sn":-0.37},{"wl":3924,"sn":0.05},{"wl":3925,"sn":0.73},{"wl":3926,"sn":0.23},{"wl":3927,"sn":0.73},
      {"wl":3928,"sn":0.42},{"wl":3929,"sn":-0.5},{"wl":3930,"sn":-0.4},{"wl":3931,"sn":0.1},{"wl":3932,"sn":0.08},{"wl":3933,"sn":0.73},{"wl":3934,"sn":0.44},{"wl":3935,"sn":-0.07},{"wl":3936,"sn":0.54},{"wl":3937,"sn":0.03},
      {"wl":3938,"sn":0.39},{"wl":3939,"sn":0.41},{"wl":3940,"sn":0.78},{"wl":3941,"sn":0.03},{"wl":3942,"sn":0.7},{"wl":3943,"sn":-0.26},{"wl":3944,"sn":-0.44},{"wl":3945,"sn":-0.05},{"wl":3946,"sn":-0.48},{"wl":3947,"sn":-0.6},
      {"wl":3948,"sn":-0.3},{"wl":3949,"sn":0.42},{"wl":3950,"sn":-0.81},{"wl":3951,"sn":0.23},{"wl":3952,"sn":-0.18},{"wl":3953,"sn":0.56},{"wl":3954,"sn":-0.13},{"wl":3955,"sn":-0.15},{"wl":3956,"sn":0.25},{"wl":3957,"sn":-0.05},
      {"wl":3958,"sn":-0.32},{"wl":3959,"sn":-0.67},{"wl":3960,"sn":0.58},{"wl":3961,"sn":0.1},{"wl":3962,"sn":1.0},{"wl":3963,"sn":0.15},{"wl":3964,"sn":-0.05},{"wl":3965,"sn":0.15},{"wl":3966,"sn":0.56},{"wl":3967,"sn":0.07},
      {"wl":3968,"sn":0.47},{"wl":3969,"sn":-0.05},{"wl":3970,"sn":-0.47},{"wl":3971,"sn":-0.45},{"wl":3972,"sn":0.05},{"wl":3973,"sn":0.61},{"wl":3974,"sn":0.9},{"wl":3975,"sn":0.47},{"wl":3976,"sn":0.0},{"wl":3977,"sn":0.02},
      {"wl":3978,"sn":0.25},{"wl":3979,"sn":0.02},{"wl":3980,"sn":0.66},{"wl":3981,"sn":0.28},{"wl":3982,"sn":0.64},{"wl":3983,"sn":0.05},{"wl":3984,"sn":0.5}
    ],
    "elgOut2": [
      {"wl":3908,"sn":0},{"wl":3932,"sn":0},{"wl":3933,"sn":0.02},{"wl":3934,"sn":0.12},{"wl":3935,"sn":0.28},{"wl":3936,"sn":0.36},{"wl":3937,"sn":0.37},{"wl":3938,"sn":0.28},{"wl":3939,"sn":0.19},{"wl":3940,"sn":0.2},
      {"wl":3941,"sn":0.25},{"wl":3942,"sn":0.26},{"wl":3943,"sn":0.18},{"wl":3944,"sn":0.08},{"wl":3945,"sn":0.03},{"wl":3946,"sn":0.02},{"wl":3950,"sn":0.02},{"wl":3952,"sn":0.03},{"wl":3953,"sn":0.06},{"wl":3954,"sn":0.07},
      {"wl":3955,"sn":0.04},{"wl":3956,"sn":0.01},{"wl":3958,"sn":0},{"wl":3984,"sn":0}
    ]
  },
  "hconcat": [
    {
      "vconcat": [
        {
          "width": 767, "height": 192,
          "title": {"text": "LAE\u00a0\u00a0 Max prob = 1.0000", "anchor": "start", "frame": "group", "orient": "top", "offset": -23.5, "dx": 19, "fontSize": 13, "fontWeight": "normal", "font": "DejaVu Sans"},
          "layer": [
            {
              "data": {"values": [{"lo": 4345, "hi": 4424}]},
              "mark": {"type": "rect", "opacity": 0.22},
              "encoding": {
                "x": {"field": "lo", "type": "quantitative", "scale": {"domain": [3548, 5603], "nice": false, "zero": false}, "axis": {"values": [3750, 4000, 4250, 4500, 4750, 5000, 5250, 5500], "labels": false, "title": null, "tickCount": 20}},
                "x2": {"field": "hi"},
                "fill": {
                  "datum": "Cropped Region",
                  "scale": {"domain": ["Cropped Region"], "range": ["#808080"]},
                  "legend": {"orient": "none", "legendX": 600.2, "legendY": 72, "symbolType": "M-1,-0.6L3,-0.6L3,0.6L-1,0.6Z", "symbolStrokeWidth": 0, "labelOffset": 24}
                }
              }
            },
            {
              "data": {"name": "lae"},
              "mark": {"type": "line", "color": "#000", "strokeWidth": 1, "opacity": 0.8},
              "encoding": {
                "x": {"field": "wl", "type": "quantitative"},
                "y": {"field": "sn", "type": "quantitative", "scale": {"domain": [-0.3, 1.1], "nice": false, "zero": false}, "axis": {"values": [-0.2, 0, 0.2, 0.4, 0.6, 0.8, 1], "format": ".1f", "title": null, "tickCount": 20}},
                "strokeDash": {
                  "datum": "Input Array",
                  "scale": {"domain": ["Input Array"], "range": [[1, 0]]},
                  "legend": {"orient": "none", "legendX": 600.2, "legendY": 12, "symbolType": "M-1,0L3,0", "symbolStrokeWidth": 1, "symbolStrokeColor": "#6b6b6b", "symbolOpacity": 1, "labelOffset": 23}
                }
              }
            },
            {
              "data": {"name": "laeOut1"},
              "mark": {"type": "line", "strokeWidth": 3, "opacity": 0.5},
              "encoding": {
                "x": {"field": "wl", "type": "quantitative"},
                "y": {"field": "sn", "type": "quantitative"},
                "color": {
                  "datum": "1st Output Array",
                  "scale": {"domain": ["1st Output Array", "2nd Output Array"], "range": ["#008000", "#ff3333"]},
                  "legend": {"orient": "none", "legendX": 598.2, "legendY": 30, "symbolType": "M-1,0L3,0", "symbolStrokeWidth": 3.5, "symbolOpacity": 0.5, "labelOffset": 22, "rowPadding": 3}
                }
              }
            }
          ]
        },
        {
          "width": 767, "height": 192,
          "title": {"text": "QSO\u00a0 Max prob = 0.0003", "anchor": "start", "frame": "group", "orient": "top", "offset": -23.5, "dx": 19, "fontSize": 13, "fontWeight": "normal", "font": "DejaVu Sans"},
          "layer": [
            {
              "data": {"values": [{"lo": 4808, "hi": 4887}]},
              "mark": {"type": "rect", "color": "#808080", "opacity": 0.22},
              "encoding": {
                "x": {"field": "lo", "type": "quantitative", "scale": {"domain": [3548, 5603], "nice": false, "zero": false}, "axis": {"values": [3750, 4000, 4250, 4500, 4750, 5000, 5250, 5500], "labels": false, "title": null, "tickCount": 20}},
                "x2": {"field": "hi"}
              }
            },
            {
              "data": {"name": "qso"},
              "mark": {"type": "line", "color": "#000", "strokeWidth": 1, "opacity": 0.8},
              "encoding": {
                "x": {"field": "wl", "type": "quantitative"},
                "y": {"field": "sn", "type": "quantitative", "scale": {"domain": [-0.3, 1.1], "nice": false, "zero": false}, "axis": {"values": [-0.2, 0, 0.2, 0.4, 0.6, 0.8, 1], "format": ".1f", "title": "Normalized S/N", "titlePadding": 1, "tickCount": 20}}
              }
            },
            {
              "data": {"name": "flatOut1"},
              "mark": {"type": "line", "color": "#008000", "strokeWidth": 3, "opacity": 0.5},
              "encoding": {
                "x": {"field": "wl", "type": "quantitative"},
                "y": {"field": "sn", "type": "quantitative"}
              }
            }
          ]
        },
        {
          "width": 767, "height": 192,
          "title": {"text": "ELG\u00a0\u00a0 Max prob = 0.0005", "anchor": "start", "frame": "group", "orient": "top", "offset": -23.5, "dx": 19, "fontSize": 13, "fontWeight": "normal", "font": "DejaVu Sans"},
          "layer": [
            {
              "data": {"values": [{"lo": 3906, "hi": 3987}]},
              "mark": {"type": "rect", "color": "#808080", "opacity": 0.22},
              "encoding": {
                "x": {"field": "lo", "type": "quantitative", "scale": {"domain": [3548, 5603], "nice": false, "zero": false}, "axis": {"values": [3750, 4000, 4250, 4500, 4750, 5000, 5250, 5500], "format": "d", "title": "Observed-frame Wavelength (Å)", "titlePadding": 13, "tickCount": 20}},
                "x2": {"field": "hi"}
              }
            },
            {
              "data": {"name": "elg"},
              "mark": {"type": "line", "color": "#000", "strokeWidth": 1, "opacity": 0.8},
              "encoding": {
                "x": {"field": "wl", "type": "quantitative"},
                "y": {"field": "sn", "type": "quantitative", "scale": {"domain": [-0.3, 1.1], "nice": false, "zero": false}, "axis": {"values": [-0.2, 0, 0.2, 0.4, 0.6, 0.8, 1], "format": ".1f", "title": null, "tickCount": 20}}
              }
            },
            {
              "data": {"name": "flatOut1"},
              "mark": {"type": "line", "color": "#008000", "strokeWidth": 3, "opacity": 0.5},
              "encoding": {
                "x": {"field": "wl", "type": "quantitative"},
                "y": {"field": "sn", "type": "quantitative"}
              }
            }
          ]
        }
      ],
      "spacing": 0,
      "bounds": "flush",
      "resolve": {"scale": {"color": "independent", "fill": "independent", "strokeDash": "independent"}, "legend": {"color": "independent", "fill": "independent", "strokeDash": "independent"}}
    },
    {
      "vconcat": [
        {
          "width": 153.3, "height": 8.2,
          "view": {"stroke": null},
          "data": {"values": [{}]},
          "mark": {"type": "rect", "opacity": 0},
          "encoding": {}
        },
        {
          "vconcat": [
            {
              "width": 153.3, "height": 168.6,
              "layer": [
                {
                  "data": {"name": "laeCrop"},
                  "mark": {"type": "line", "color": "#000", "strokeWidth": 0.8},
                  "encoding": {
                    "x": {"field": "wl", "type": "quantitative", "scale": {"domain": [4342, 4424], "nice": false, "zero": false}, "axis": {"values": [4350, 4400], "format": "d", "title": null, "labelPadding": 5, "tickCount": 20}},
                    "y": {"field": "sn", "type": "quantitative", "scale": {"domain": [-0.33, 1.07], "nice": false, "zero": false}, "axis": {"values": [-0.25, 0, 0.25, 0.5, 0.75, 1], "format": ".2f", "title": null, "labelFontSize": 13.5, "labelPadding": 8, "tickCount": 20}}
                  }
                },
                {
                  "data": {"name": "laeOut2"},
                  "mark": {"type": "line", "color": "#ff0000", "strokeWidth": 3.5, "opacity": 0.4},
                  "encoding": {
                    "x": {"field": "wl", "type": "quantitative"},
                    "y": {"field": "sn", "type": "quantitative"}
                  }
                }
              ]
            },
            {
              "width": 153.3, "height": 168.6,
              "layer": [
                {
                  "data": {"name": "qsoCrop"},
                  "mark": {"type": "line", "color": "#000", "strokeWidth": 0.8},
                  "encoding": {
                    "x": {"field": "wl", "type": "quantitative", "scale": {"domain": [4803.6, 4885.7], "nice": false, "zero": false}, "axis": {"values": [4825, 4850, 4875], "format": "d", "title": null, "labelPadding": 5, "tickCount": 20}},
                    "y": {"field": "sn", "type": "quantitative", "scale": {"domain": [-0.05, 1.05], "nice": false, "zero": false}, "axis": {"values": [0, 0.2, 0.4, 0.6, 0.8, 1], "format": ".1f", "title": null, "labelFontSize": 13.5, "labelPadding": 8, "tickCount": 20}}
                  }
                },
                {
                  "data": {"name": "qsoOut2"},
                  "mark": {"type": "line", "color": "#ff0000", "strokeWidth": 3.5, "opacity": 0.4},
                  "encoding": {
                    "x": {"field": "wl", "type": "quantitative"},
                    "y": {"field": "sn", "type": "quantitative"}
                  }
                }
              ]
            },
            {
              "width": 153.3, "height": 168.6,
              "layer": [
                {
                  "data": {"name": "elgCrop"},
                  "mark": {"type": "line", "color": "#000", "strokeWidth": 0.8},
                  "encoding": {
                    "x": {"field": "wl", "type": "quantitative", "scale": {"domain": [3904.5, 3988], "nice": false, "zero": false}, "axis": {"values": [3925, 3950, 3975], "format": "d", "title": null, "labelPadding": 5, "tickCount": 20}},
                    "y": {"field": "sn", "type": "quantitative", "scale": {"domain": [-0.894, 1.086], "nice": false, "zero": false}, "axis": {"values": [-0.5, 0, 0.5, 1], "format": ".1f", "title": null, "labelFontSize": 13.5, "labelPadding": 8, "tickCount": 20}}
                  }
                },
                {
                  "data": {"name": "elgOut2"},
                  "mark": {"type": "line", "color": "#ff0000", "strokeWidth": 3.5, "opacity": 0.4},
                  "encoding": {
                    "x": {"field": "wl", "type": "quantitative"},
                    "y": {"field": "sn", "type": "quantitative"}
                  }
                }
              ]
            }
          ],
          "spacing": 23.3,
          "bounds": "flush"
        }
      ],
      "spacing": 0,
      "bounds": "full"
    }
  ],
  "spacing": 0,
  "resolve": {"scale": {"color": "independent", "fill": "independent", "strokeDash": "independent"}, "legend": {"color": "independent", "fill": "independent", "strokeDash": "independent"}}
}
